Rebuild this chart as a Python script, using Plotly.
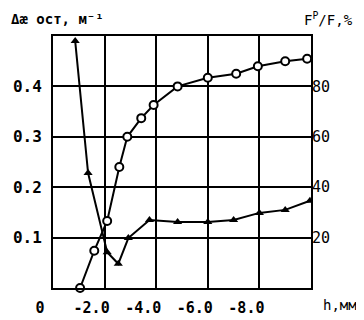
import plotly.graph_objects as go

# Depth h, mm (negative values)
h_circ = [-1.05, -1.6, -2.1, -2.57, -2.88, -3.42, -3.9, -4.83, -6.0, -7.1, -7.94, -9.0, -9.85]
# F^P/F, %  (right axis)
fpf = [0, 14.8, 26.6, 48, 60, 67.4, 72.6, 80, 83.4, 85, 88, 90, 91]

h_tri = [-0.86, -1.36, -2.1, -2.53, -2.92, -3.74, -4.83, -6.0, -7.0, -8.0, -9.0, -9.96]
# Δæ ост, м^-1 (left axis)
dk = [0.49, 0.228, 0.071, 0.048, 0.099, 0.135, 0.131, 0.131, 0.135, 0.149, 0.155, 0.173]

x_ticks = [0, -2, -4, -6, -8]
x_text = ["0", "-2.0", "-4.0", "-6.0", "-8.0"]
y_ticks = [0.1, 0.2, 0.3, 0.4]
y_text = ["0.1", "0.2", "0.3", "0.4"]
y2_ticks = [20, 40, 60, 80]
y2_text = ["20", "40", "60", "80"]

mono = "DejaVu Sans Mono"

fig = go.Figure()
fig.add_trace(go.Scatter(
    x=h_tri, y=dk, mode="lines+markers",
    line=dict(color="black", width=2),
    marker=dict(symbol="triangle-up", size=8, color="black"),
    yaxis="y", showlegend=False))
fig.add_trace(go.Scatter(
    x=h_circ, y=fpf, mode="lines+markers",
    line=dict(color="black", width=2),
    marker=dict(symbol="circle", size=8, color="white", line=dict(color="black", width=2)),
    yaxis="y2", cliponaxis=False, showlegend=False))

# page body has an 8px default margin, so the figure is drawn 8px in from the corner
fig.update_layout(
    width=356, height=312,
    margin=dict(l=45, r=53, t=28, b=32, autoexpand=False),
    paper_bgcolor="white", plot_bgcolor="white",
    font=dict(family=mono, color="black", size=14),
    xaxis=dict(range=[0, -10], tickvals=x_ticks, ticktext=x_text, automargin=False,
               showgrid=True, gridcolor="black", gridwidth=2,
               showline=True, mirror=True, linecolor="black", linewidth=2,
               zeroline=False, ticks="", ticklabelshift=13, ticklabelstandoff=5,
               tickfont=dict(family=mono, size=15, color="black", weight="bold")),
    yaxis=dict(range=[0, 0.5], tickvals=y_ticks, ticktext=y_text, automargin=False,
               showgrid=True, gridcolor="black", gridwidth=2,
               showline=True, mirror=True, linecolor="black", linewidth=2,
               zeroline=False, ticks="", ticklabelstandoff=6,
               tickfont=dict(family=mono, size=16, color="black", weight="bold")),
    yaxis2=dict(range=[0, 100], tickvals=y2_ticks, ticktext=y2_text, automargin=False,
                overlaying="y", side="right", showgrid=False, zeroline=False,
                showline=False, ticks="", ticklabelstandoff=0,
                tickfont=dict(family=mono, size=15, color="black")),
    annotations=[
        dict(text="Δæ ост, м⁻¹", xref="paper", yref="paper", x=-44/258, y=1 + 17/252,
             xanchor="left", yanchor="middle", showarrow=False,
             font=dict(family=mono, size=14, color="black", weight="bold")),
        dict(text="F<sup>P</sup>/F,%", xref="paper", yref="paper", x=(328 - 53) / 258, y=1 + 17/252,
             xanchor="center", yanchor="middle", showarrow=False,
             font=dict(family=mono, size=14, color="black")),
        dict(text="h,мм", xref="paper", yref="paper", x=(340 - 53) / 258, y=-17/252,
             xanchor="center", yanchor="middle", showarrow=False,
             font=dict(family=mono, size=14, color="black")),
    ],
)
fig.write_html("out.html")
